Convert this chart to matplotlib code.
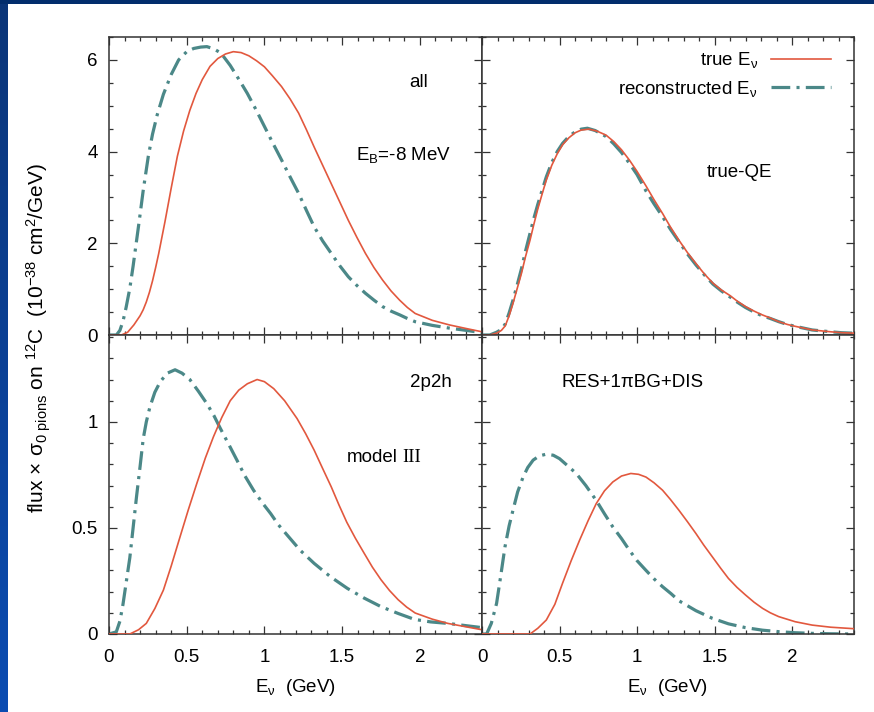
import numpy as np
import matplotlib
matplotlib.use("Agg")
import matplotlib.pyplot as plt
from matplotlib.ticker import MultipleLocator
from matplotlib.colors import LinearSegmentedColormap

plt.rcParams['font.family'] = ['Liberation Sans', 'DejaVu Sans']
plt.rcParams['mathtext.fontset'] = 'custom'
plt.rcParams['mathtext.rm'] = 'Liberation Sans'
plt.rcParams['mathtext.it'] = 'Liberation Sans:italic'
plt.rcParams['mathtext.bf'] = 'Liberation Sans:bold'
plt.rcParams['lines.scale_dashes'] = False

# flux x sigma(0 pions) on 12C, true vs reconstructed neutrino energy
# all events
all_true_x = [0, 0.08, 0.12, 0.16, 0.20, 0.22, 0.24, 0.26, 0.28, 0.30, 0.32, 0.36, 0.40, 0.44,
              0.48, 0.52, 0.56, 0.60, 0.65, 0.70, 0.75, 0.80, 0.85, 0.90, 0.95, 1.0, 1.05,
              1.11, 1.165, 1.22, 1.27, 1.32, 1.375, 1.43, 1.485, 1.54, 1.595, 1.65, 1.705,
              1.76, 1.815, 1.87, 1.92, 1.97, 2.08, 2.19, 2.30, 2.40]
all_true_y = [0, 0, 0.06, 0.22, 0.42, 0.55, 0.72, 0.93, 1.18, 1.47, 1.78, 2.47, 3.2, 3.9,
              4.45, 4.9, 5.27, 5.57, 5.86, 6.03, 6.13, 6.18, 6.16, 6.09, 5.98, 5.85, 5.66,
              5.42, 5.15, 4.84, 4.48, 4.1, 3.7, 3.3, 2.9, 2.5, 2.13, 1.78, 1.47,
              1.2, 0.96, 0.76, 0.6, 0.47, 0.32, 0.22, 0.14, 0.07]
all_reco_x = [0, 0.048, 0.07, 0.09, 0.11, 0.134, 0.155, 0.173, 0.195, 0.22, 0.253, 0.28, 0.31,
              0.35, 0.40, 0.448, 0.50, 0.545, 0.59, 0.63, 0.675, 0.72, 0.78, 0.835, 0.89,
              0.945, 1.0, 1.055, 1.11, 1.165, 1.22, 1.27, 1.32, 1.375, 1.43, 1.485, 1.54,
              1.595, 1.65, 1.705, 1.76, 1.815, 1.87, 1.92, 1.97, 2.08, 2.19, 2.30, 2.40]
all_reco_y = [0, 0, 0.1, 0.3, 0.6, 1.02, 1.5, 1.95, 2.5, 3.15, 3.9, 4.38, 4.8,
              5.25, 5.68, 6.0, 6.18, 6.25, 6.28, 6.29, 6.24, 6.15, 5.88, 5.58, 5.27,
              4.92, 4.55, 4.18, 3.82, 3.45, 3.09, 2.72, 2.36, 2.05, 1.78, 1.51, 1.27,
              1.08, 0.91, 0.76, 0.62, 0.52, 0.44, 0.36, 0.29, 0.21, 0.15, 0.10, 0.05]

# true quasi-elastic
qe_true_x = [0, 0.05, 0.094, 0.125, 0.15, 0.175, 0.2, 0.23, 0.255, 0.28, 0.31, 0.335, 0.36,
             0.39, 0.415, 0.45, 0.485, 0.52, 0.56, 0.6, 0.64, 0.69, 0.74, 0.80, 0.85, 0.90,
             0.95, 1.0, 1.06, 1.11, 1.165, 1.215, 1.27, 1.325, 1.38, 1.435, 1.49, 1.545,
             1.6, 1.65, 1.7, 1.75, 1.8, 1.86, 1.915, 1.97, 2.02, 2.075, 2.13, 2.19, 2.25,
             2.32, 2.40]
qe_true_y = [0, 0, 0.04, 0.1, 0.2, 0.42, 0.69, 1.05, 1.35, 1.7, 2.07, 2.42, 2.75,
             3.1, 3.38, 3.7, 3.95, 4.15, 4.3, 4.41, 4.47, 4.49, 4.45, 4.36, 4.22, 4.04,
             3.82, 3.57, 3.24, 2.95, 2.65, 2.36, 2.07, 1.8, 1.56, 1.33, 1.13, 0.98,
             0.86, 0.73, 0.62, 0.53, 0.45, 0.37, 0.29, 0.23, 0.19, 0.15, 0.11, 0.09, 0.07,
             0.05, 0.04]
qe_reco_x = [0, 0.05, 0.094, 0.125, 0.15, 0.175, 0.2, 0.23, 0.255, 0.28, 0.31, 0.335, 0.36,
             0.39, 0.415, 0.45, 0.485, 0.52, 0.56, 0.6, 0.64, 0.68, 0.73, 0.80, 0.85, 0.90,
             0.95, 1.0, 1.06, 1.11, 1.165, 1.215, 1.27, 1.325, 1.38, 1.435, 1.49, 1.545,
             1.6, 1.65, 1.7, 1.75, 1.8, 1.86, 1.915, 1.97, 2.02, 2.075, 2.13, 2.19, 2.25,
             2.32, 2.40]
qe_reco_y = [0, 0, 0.06, 0.12, 0.24, 0.48, 0.76, 1.13, 1.45, 1.82, 2.22, 2.55, 2.85,
             3.18, 3.45, 3.76, 4.0, 4.18, 4.33, 4.43, 4.49, 4.51, 4.46, 4.33, 4.17, 3.98,
             3.75, 3.5, 3.13, 2.86, 2.58, 2.31, 2.04, 1.77, 1.53, 1.31, 1.11, 0.96,
             0.83, 0.71, 0.60, 0.51, 0.43, 0.36, 0.29, 0.23, 0.19, 0.15, 0.11, 0.09, 0.07,
             0.05, 0.04]

# 2p2h, model III
mec_true_x = [0, 0.134, 0.19, 0.24, 0.295, 0.35, 0.40, 0.457, 0.51, 0.565, 0.62, 0.672, 0.725,
              0.78, 0.835, 0.89, 0.953, 1.0, 1.06, 1.13, 1.21, 1.265, 1.32, 1.375, 1.43, 1.48,
              1.53, 1.585, 1.64, 1.695, 1.75, 1.805, 1.86, 1.915, 1.97, 2.08, 2.18, 2.29, 2.40]
mec_true_y = [0, 0, 0.02, 0.05, 0.12, 0.207, 0.32, 0.458, 0.585, 0.71, 0.83, 0.93, 1.02,
              1.10, 1.15, 1.18, 1.20, 1.19, 1.157, 1.10, 1.016, 0.945, 0.867, 0.78, 0.694, 0.608,
              0.527, 0.452, 0.383, 0.315, 0.256, 0.205, 0.162, 0.127, 0.099, 0.07, 0.05, 0.035, 0.02]
mec_reco_x = [0, 0.047, 0.07, 0.09, 0.11, 0.134, 0.155, 0.177, 0.2, 0.22, 0.24, 0.263, 0.295,
              0.33, 0.375, 0.425, 0.47, 0.52, 0.575, 0.63, 0.675, 0.716, 0.77, 0.823, 0.875,
              0.93, 0.985, 1.04, 1.09, 1.147, 1.23, 1.32, 1.425, 1.534, 1.64, 1.75, 1.86,
              1.965, 2.07, 2.18, 2.29, 2.40]
mec_reco_y = [0, 0.01, 0.06, 0.14, 0.24, 0.36, 0.5, 0.647, 0.79, 0.92, 1.0, 1.07, 1.14,
              1.19, 1.23, 1.246, 1.23, 1.20, 1.145, 1.086, 1.03, 0.97, 0.895, 0.82, 0.745,
              0.678, 0.62, 0.568, 0.515, 0.466, 0.395, 0.333, 0.27, 0.215, 0.17, 0.129, 0.097,
              0.069, 0.057, 0.05, 0.04, 0.03]

# RES + 1pi background + DIS
res_true_x = [0, 0.31, 0.36, 0.415, 0.47, 0.52, 0.575, 0.63, 0.685, 0.737, 0.79, 0.844, 0.90,
              0.96, 1.01, 1.058, 1.11, 1.165, 1.215, 1.27, 1.325, 1.38, 1.43, 1.486, 1.54,
              1.59, 1.645, 1.70, 1.755, 1.81, 1.86, 1.914, 2.02, 2.13, 2.25, 2.40]
res_true_y = [0, 0, 0.027, 0.066, 0.14, 0.24, 0.345, 0.443, 0.535, 0.615, 0.675, 0.717, 0.745,
              0.757, 0.753, 0.74, 0.713, 0.678, 0.635, 0.584, 0.53, 0.474, 0.42, 0.364, 0.31,
              0.262, 0.22, 0.184, 0.15, 0.121, 0.1, 0.082, 0.058, 0.042, 0.032, 0.025]
res_reco_x = [0, 0.03, 0.06, 0.094, 0.12, 0.148, 0.175, 0.2, 0.23, 0.265, 0.295, 0.33, 0.37,
              0.415, 0.46, 0.5, 0.55, 0.608, 0.67, 0.737, 0.79, 0.844, 0.9, 0.95, 1.0, 1.058,
              1.11, 1.165, 1.22, 1.27, 1.38, 1.486, 1.59, 1.70, 1.81, 1.914, 2.02, 2.13, 2.25,
              2.40]
res_reco_y = [0, 0, 0.05, 0.144, 0.27, 0.41, 0.51, 0.584, 0.67, 0.74, 0.785, 0.82, 0.84,
              0.848, 0.843, 0.827, 0.795, 0.757, 0.70, 0.63, 0.567, 0.505, 0.45, 0.396, 0.346,
              0.30, 0.26, 0.223, 0.19, 0.157, 0.11, 0.074, 0.048, 0.03, 0.018, 0.011, 0.006,
              0.003, 0.001, 0]

red = '#e2583e'
teal = '#4b8888'
frame = '#333333'

W, H = 874, 712
fig = plt.figure(figsize=(W / 100, H / 100), dpi=100)
fig.patch.set_facecolor('white')

# slide background strips
band = fig.add_axes([0, 0, 8 / W, 1])
grad = np.linspace(0, 1, 256).reshape(-1, 1)
cmap = LinearSegmentedColormap.from_list('slide', ['#0b3578', '#0a4cb2'])
band.imshow(grad, aspect='auto', cmap=cmap, extent=[0, 1, 0, 1], origin='upper')
band.axis('off')
top = fig.add_axes([0, 1 - 4 / H, 1, 4 / H])
top.set_facecolor('#022d6c')
top.set_xticks([])
top.set_yticks([])
for s in top.spines.values():
    s.set_visible(False)

x0, xm, x1 = 109 / W, 482 / W, 854 / W
y1, ym, y0 = 1 - 37 / H, 1 - 335 / H, 1 - 634 / H
ax_tl = fig.add_axes([x0, ym, xm - x0, y1 - ym])
ax_tr = fig.add_axes([xm, ym, x1 - xm, y1 - ym])
ax_bl = fig.add_axes([x0, y0, xm - x0, ym - y0])
ax_br = fig.add_axes([xm, y0, x1 - xm, ym - y0])

panels = [
    (ax_tl, all_true_x, all_true_y, all_reco_x, all_reco_y),
    (ax_tr, qe_true_x, qe_true_y, qe_reco_x, qe_reco_y),
    (ax_bl, mec_true_x, mec_true_y, mec_reco_x, mec_reco_y),
    (ax_br, res_true_x, res_true_y, res_reco_x, res_reco_y),
]
dashdot = (0, (13.5, 4.5, 2.2, 4.5))
fmt = plt.FuncFormatter(lambda v, p: f'{v:g}')
for ax, tx, ty, rx, ry in panels:
    ax.plot(tx, ty, color=red, lw=1.2, label=r'true E$_\mathrm{ν}$', zorder=3)
    ax.plot(rx, ry, color=teal, lw=2.3, ls=dashdot, dash_capstyle='butt',
            solid_joinstyle='round', label=r'reconstructed E$_\mathrm{ν}$', zorder=2)
    ax.set_xlim(0, 2.4)
    ax.xaxis.set_major_locator(MultipleLocator(0.5))
    ax.xaxis.set_minor_locator(MultipleLocator(0.1))
    ax.xaxis.set_major_formatter(fmt)
    ax.tick_params(which='both', direction='in', top=True, right=True,
                   color=frame, width=0.9, labelsize=13.5)
    ax.tick_params(which='major', length=5.5)
    ax.tick_params(which='minor', length=3)
    ax.tick_params(axis='y', pad=8)
    ax.tick_params(axis='x', pad=11)
    for s in ax.spines.values():
        s.set_color(frame)
        s.set_linewidth(1.1)

for ax in (ax_tl, ax_tr):
    ax.set_ylim(0, 6.5)
    ax.yaxis.set_major_locator(MultipleLocator(2))
    ax.yaxis.set_minor_locator(MultipleLocator(0.5))
    ax.tick_params(labelbottom=False)
for ax in (ax_bl, ax_br):
    ax.set_ylim(0, 1.41)
    ax.yaxis.set_major_locator(MultipleLocator(0.5))
    ax.yaxis.set_minor_locator(MultipleLocator(0.1))
    ax.yaxis.set_major_formatter(fmt)
    ax.set_xlabel(r'E$_\mathrm{ν}$  (GeV)', fontsize=13.5, labelpad=8)
for ax in (ax_tr, ax_br):
    ax.tick_params(labelleft=False)

ax_tr.legend(loc='upper right', bbox_to_anchor=(0.938, 0.955), frameon=False,
             markerfirst=False, fontsize=13.5, handlelength=3.2, handletextpad=0.7,
             labelspacing=0.45, borderpad=0, borderaxespad=0)

fs = 13.5
ax_tl.text(1.99, 5.5, 'all', fontsize=fs, ha='center', va='center')
ax_tl.text(1.895, 3.93, r'E$_\mathrm{B}$=-8 MeV', fontsize=fs, ha='center', va='center')
ax_tr.text(1.66, 3.54, 'true-QE', fontsize=fs, ha='center', va='center')
ax_bl.text(2.07, 1.187, '2p2h', fontsize=fs, ha='center', va='center')
ax_bl.text(1.855, 0.834, 'model', fontsize=fs, ha='right', va='center')
ax_bl.text(1.885, 0.834, 'III', fontsize=fs, ha='left', va='center', family='Liberation Serif')
ax_br.text(0.97, 1.187, 'RES+1πBG+DIS', fontsize=fs, ha='center', va='center')

fig.text(39 / W, 1 - 338 / H,
         r'flux$\,\times\,$σ$_\mathrm{0\ pions}$ on $^\mathrm{12}$C  (10$^\mathrm{-38}$ cm$^\mathrm{2}$/GeV)',
         rotation=90, ha='center', va='center', fontsize=15)

fig.savefig('out.png', dpi=100)
